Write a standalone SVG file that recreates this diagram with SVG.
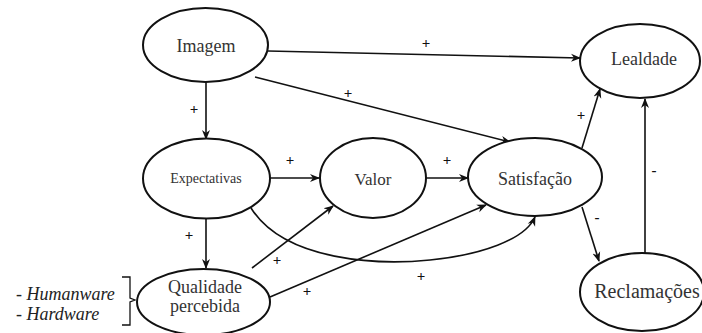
<svg xmlns="http://www.w3.org/2000/svg" width="702" height="333" viewBox="0 0 702 333">
  <style>
    .node ellipse { fill: #fff; stroke: #111; stroke-width: 2; }
    .node text { fill: #333; text-anchor: middle; }
    .edge { fill: none; stroke: #111; stroke-width: 1.6; marker-end: url(#arrow); }
    .sign { font-size: 15px; fill: #111; text-anchor: middle; font-weight: bold; }
    .note { font-size: 18px; font-style: italic; fill: #222; }
  </style>
  <defs>
    <marker id="arrow" viewBox="0 0 10 10" refX="9" refY="5" markerWidth="10" markerHeight="10" markerUnits="userSpaceOnUse" orient="auto">
      <path d="M0,1 L10,5 L0,9 L3,5 z" fill="#111"/>
    </marker>
  </defs>

  <g font-family="Liberation Serif, DejaVu Serif, serif">
  <!-- connectors -->
  <g id="connectors">
    <line class="edge" x1="268" y1="51" x2="580" y2="58"/>
    <line class="edge" x1="255" y1="77" x2="510" y2="142"/>
    <line class="edge" x1="206" y1="82" x2="206" y2="139"/>
    <line class="edge" x1="270" y1="178" x2="319" y2="178"/>
    <line class="edge" x1="426" y1="178" x2="468" y2="178"/>
    <line class="edge" x1="206" y1="218" x2="206" y2="268"/>
    <line class="edge" x1="252" y1="268" x2="333" y2="206"/>
    <line class="edge" x1="270" y1="297" x2="486" y2="205"/>
    <path class="edge" d="M251,208 C285,262 380,265 430,260 C480,255 525,240 535,217"/>
    <line class="edge" x1="582" y1="148" x2="600" y2="89"/>
    <line class="edge" x1="582" y1="207" x2="599" y2="261"/>
    <line class="edge" x1="645" y1="253" x2="645" y2="99"/>

    <text class="sign" x="426" y="48">+</text>
    <text class="sign" x="348" y="98">+</text>
    <text class="sign" x="194" y="114">+</text>
    <text class="sign" x="290" y="165">+</text>
    <text class="sign" x="447" y="165">+</text>
    <text class="sign" x="189" y="240">+</text>
    <text class="sign" x="277" y="265">+</text>
    <text class="sign" x="307" y="296">+</text>
    <text class="sign" x="421" y="281">+</text>
    <text class="sign" x="581" y="120">+</text>
    <text class="sign" x="597" y="222">-</text>
    <text class="sign" x="654" y="175">-</text>
  </g>

  <g id="imagem" class="node">
    <ellipse cx="205.5" cy="45" rx="62.5" ry="37"/>
    <text x="206" y="52" font-size="18">Imagem</text>
  </g>

  <g id="expectativas" class="node">
    <ellipse cx="206.5" cy="178.5" rx="63.5" ry="40"/>
    <text x="206" y="183" font-size="14">Expectativas</text>
  </g>

  <g id="valor" class="node">
    <ellipse cx="373" cy="178" rx="53" ry="40"/>
    <text x="373" y="185" font-size="17">Valor</text>
  </g>

  <g id="satisfacao" class="node">
    <ellipse cx="535" cy="177" rx="67" ry="39"/>
    <text x="535" y="185" font-size="18">Satisfação</text>
  </g>

  <g id="lealdade" class="node">
    <ellipse cx="640" cy="61" rx="60" ry="37"/>
    <text x="644" y="65" font-size="18">Lealdade</text>
  </g>

  <g id="reclamacoes" class="node">
    <ellipse cx="642" cy="292" rx="62" ry="39"/>
    <text x="647" y="298" font-size="20">Reclamações</text>
  </g>

  <g id="qualidade" class="node">
    <ellipse cx="203.5" cy="302" rx="66.5" ry="33"/>
    <text x="205" y="293" font-size="18">Qualidade</text>
    <text x="205" y="312" font-size="18">percebida</text>
  </g>

  <!-- dimensions of perceived quality -->
  <g id="dimensoes">
    <text class="note" x="16" y="300">- Humanware</text>
    <text class="note" x="16" y="320">- Hardware</text>
    <path d="M122,277 L130,277 L130,298 L135,300 L130,302 L130,325 L122,325" fill="none" stroke="#111" stroke-width="1.3"/>
  </g>
  </g>
</svg>
